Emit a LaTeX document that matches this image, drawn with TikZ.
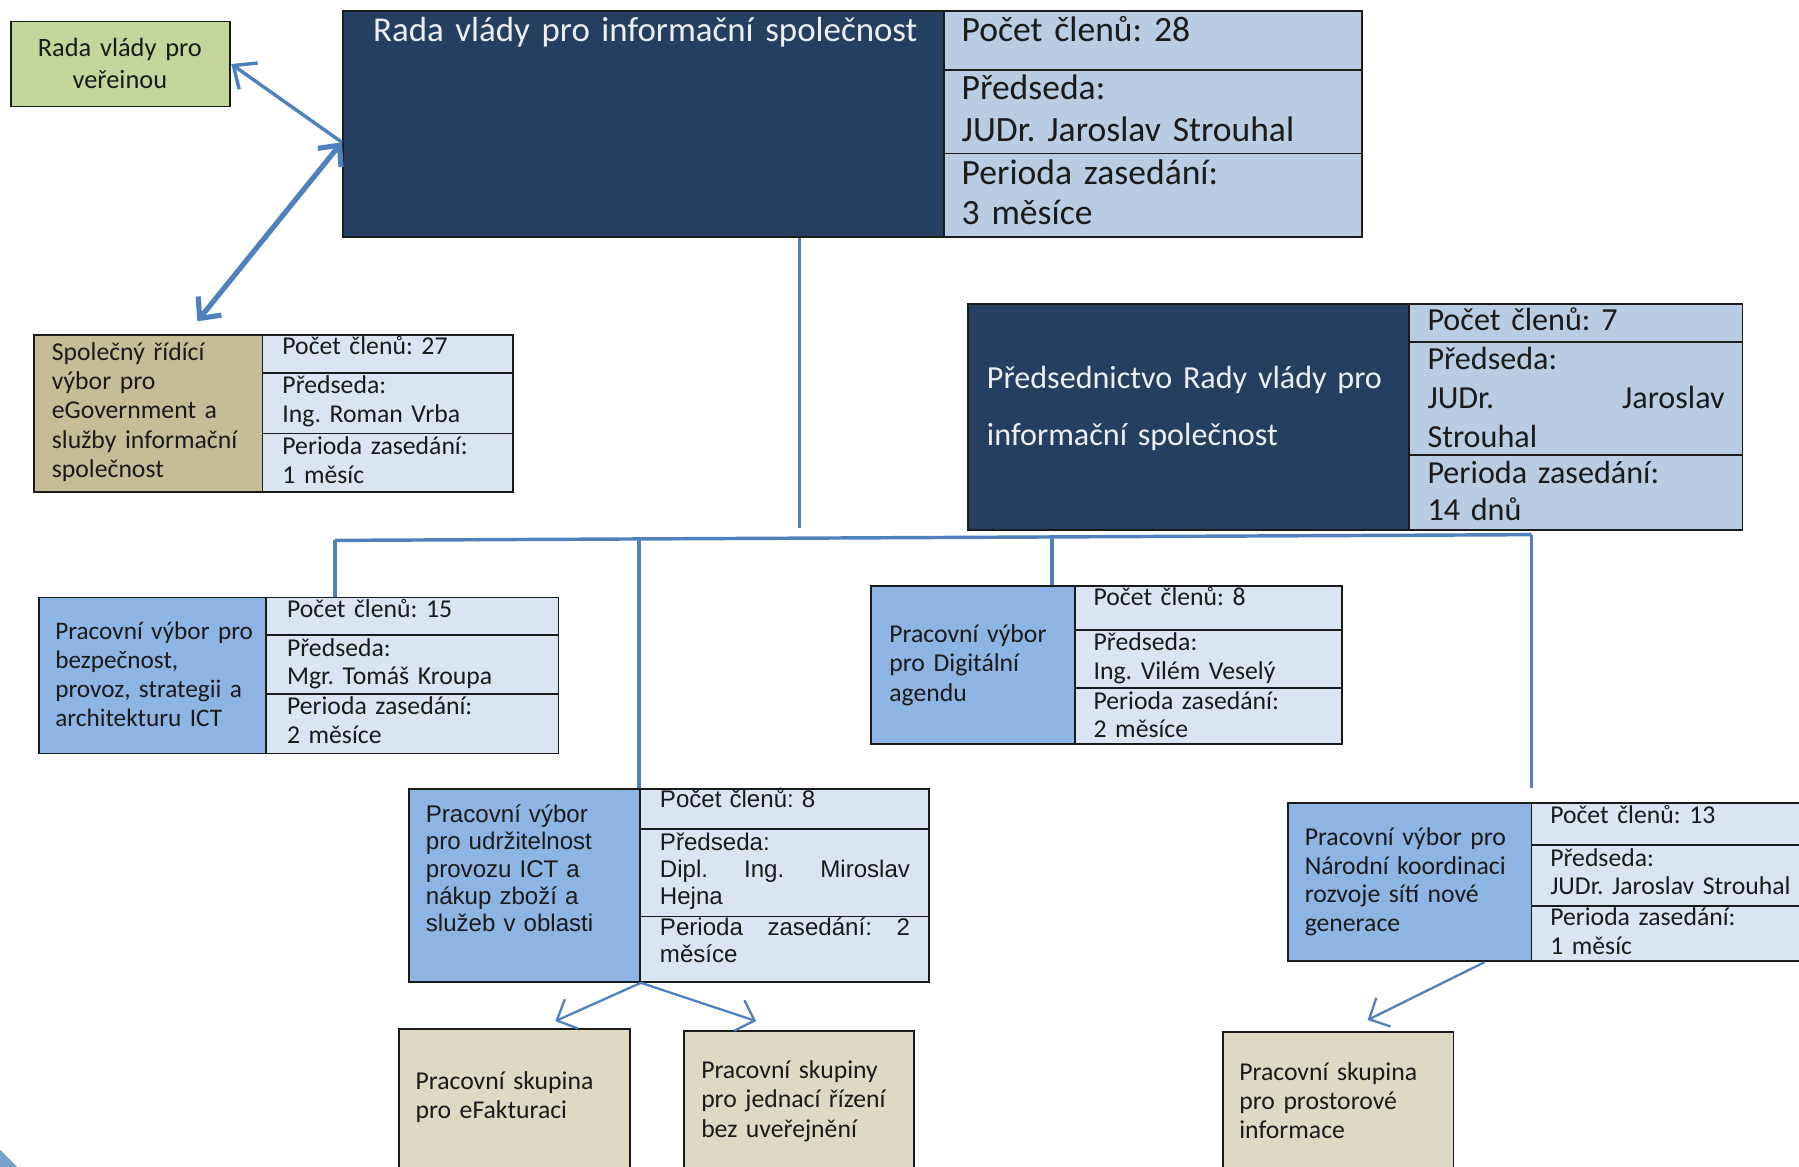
\documentclass[tikz,border=0pt]{standalone}
\usepackage{fontspec}
\setmainfont{Carlito}
\newfontfamily\arialf{Liberation Sans}
\usetikzlibrary{arrows.meta,calc}
\frenchspacing
\definecolor{navy}{HTML}{243F60}
\definecolor{cellA}{HTML}{B8CCE4}
\definecolor{cellB}{HTML}{DBE5F1}
\definecolor{midblue}{HTML}{8EB4E3}
\definecolor{leaf}{HTML}{C3D69B}
\definecolor{tan}{HTML}{C4BD97}
\definecolor{paletan}{HTML}{DDD9C3}
\definecolor{conn}{HTML}{4F81BD}
\definecolor{ink}{HTML}{1A1A1A}
\tikzset{
  cell/.style={draw=ink, line width=1.6pt, inner sep=0pt, anchor=north west},
  txt/.style={anchor=base west, inner sep=0pt, text width=330pt, align=left, text=ink},
  wtxt/.style={txt, text=white!92!navy},
  fs/.style={font=\frenchspacing\fontsize{22.4}{25.5}\selectfont},
  connector/.style={draw=conn, line width=3pt},
}
\begin{document}
\begin{tikzpicture}[x=1pt,y=-1pt]
\useasboundingbox (0,0) rectangle (1568,1017);
\fill[conn!75] (0,1002) -- (15,1017) -- (0,1017) -- cycle;
% ---- boxes
\node[cell, fill=leaf, minimum width=191, minimum height=74] (g) at (9,18) {};
\node[cell, fill=navy, minimum width=524, minimum height=197] (m) at (298,9) {};
\node[cell, fill=cellA, minimum width=364, minimum height=51] (m1) at (822,9) {};
\node[cell, fill=cellA, minimum width=364, minimum height=73] (m2) at (822,60) {};
\node[cell, fill=cellA, minimum width=364, minimum height=73] (m3) at (822,133) {};

\node[cell, fill=tan, minimum width=199, minimum height=137] (s) at (29,291) {};
\node[cell, fill=cellB, minimum width=218, minimum height=33] (s1) at (228,291) {};
\node[cell, fill=cellB, minimum width=218, minimum height=53] (s2) at (228,324) {};
\node[cell, fill=cellB, minimum width=218, minimum height=51] (s3) at (228,377) {};

\node[cell, fill=navy, minimum width=384, minimum height=197] (p) at (843,264) {};
\node[cell, fill=cellA, minimum width=291, minimum height=33] (p1) at (1227,264) {};
\node[cell, fill=cellA, minimum width=291, minimum height=99] (p2) at (1227,297) {};
\node[cell, fill=cellA, minimum width=291, minimum height=65] (p3) at (1227,396) {};

\node[cell, fill=midblue, minimum width=198, minimum height=136] (b) at (33,520) {};
\node[cell, fill=cellB, minimum width=255, minimum height=33] (b1) at (231,520) {};
\node[cell, fill=cellB, minimum width=255, minimum height=51] (b2) at (231,553) {};
\node[cell, fill=cellB, minimum width=255, minimum height=52] (b3) at (231,604) {};

\node[cell, fill=midblue, minimum width=178, minimum height=138] (d) at (758,510) {};
\node[cell, fill=cellB, minimum width=233, minimum height=38] (d1) at (936,510) {};
\node[cell, fill=cellB, minimum width=233, minimum height=51] (d2) at (936,548) {};
\node[cell, fill=cellB, minimum width=233, minimum height=49] (d3) at (936,599) {};

\node[cell, fill=midblue, minimum width=201, minimum height=168] (u) at (356,687) {};
\node[cell, fill=cellB, minimum width=252, minimum height=35] (u1) at (557,687) {};
\node[cell, fill=cellB, minimum width=252, minimum height=76] (u2) at (557,722) {};
\node[cell, fill=cellB, minimum width=252, minimum height=57] (u3) at (557,798) {};

\node[cell, fill=midblue, minimum width=212, minimum height=138] (n) at (1122,699) {};
\node[cell, fill=cellB, minimum width=250, minimum height=37] (n1) at (1334,699) {};
\node[cell, fill=cellB, minimum width=250, minimum height=53] (n2) at (1334,736) {};
\node[cell, fill=cellB, minimum width=250, minimum height=48] (n3) at (1334,789) {};

\node[cell, fill=paletan, minimum width=201, minimum height=140] (e) at (347,896) {};
\node[cell, fill=paletan, minimum width=201, minimum height=140] (j) at (595,898) {};
\node[cell, fill=paletan, minimum width=201, minimum height=140] (r) at (1065,899) {};

% ---- texts
\node[txt, anchor=base, text width=191, align=center, font=\fontsize{23}{28}\selectfont] (gt) at (104.5,49) {Rada vlády pro\\veřeinou};

\node[wtxt, font=\fontsize{30.4}{36}\selectfont, text width=500] (mt) at (325,36) {Rada vlády pro informační\ společnost};
\node[txt, font=\fontsize{31}{36}\selectfont] (m1t) at (838,36) {Počet členů: 28};
\node[txt, font=\fontsize{31}{36}\selectfont] (m2t) at (838,87) {Předseda:\\JUDr. Jaroslav Strouhal};
\node[txt, font=\fontsize{31}{35}\selectfont] (m3t) at (838,161) {Perioda zasedání:\\3 měsíce};

\node[txt, fs] (st) at (45,314) {Společný řídící\\výbor pro\\eGovernment a\\služby informační\\společnost};
\node[txt, fs] (s1t) at (246,309) {Počet členů: 27};
\node[txt, font=\fontsize{22.4}{25}\selectfont] (s2t) at (246,343) {Předseda:\\Ing. Roman Vrba};
\node[txt, font=\fontsize{22.4}{25}\selectfont] (s3t) at (246,396) {Perioda zasedání:\\1 měsíc};

\node[wtxt, font=\fontsize{28}{49}\selectfont, text width=366] (pt) at (860,339) {Předsednictvo Rady vlády pro\\informační společnost};
\node[txt, font=\fontsize{28}{34}\selectfont] (p1t) at (1244,288) {Počet členů: 7};
\node[txt, font=\fontsize{28}{34}\selectfont, text width=259] (p2t) at (1244,322) {Předseda:\\JUDr.\hfill Jaroslav\\Strouhal};
\node[txt, font=\fontsize{28}{33}\selectfont] (p3t) at (1244,421) {Perioda zasedání:\\14 dnů};

\node[txt, font=\fontsize{22}{25.3}\selectfont] (bt) at (48,557) {Pracovní výbor pro\\bezpečnost,\\provoz, strategii a\\architekturu ICT};
\node[txt, fs] (b1t) at (250,538) {Počet členů: 15};
\node[txt, font=\fontsize{22.4}{25}\selectfont] (b2t) at (250,572) {Předseda:\\Mgr. Tomáš Kroupa};
\node[txt, font=\fontsize{22.4}{25}\selectfont] (b3t) at (250,623) {Perioda zasedání:\\2 měsíce};

\node[txt, fs] (dt) at (775,560) {Pracovní výbor\\pro Digitální\\agendu};
\node[txt, fs] (d1t) at (953,528) {Počet členů: 8};
\node[txt, font=\fontsize{22.4}{25}\selectfont] (d2t) at (953,567) {Předseda:\\Ing. Vilém Veselý};
\node[txt, font=\fontsize{22.4}{25}\selectfont] (d3t) at (953,618) {Perioda zasedání:\\2 měsíce};

\node[txt, font=\arialf\fontsize{21}{23.7}\selectfont] (ut) at (371,717) {Pracovní výbor\\pro udržitelnost\\provozu ICT a\\nákup zboží a\\služeb v oblasti};
\node[txt, font=\arialf\fontsize{21}{23.5}\selectfont] (u1t) at (575,704) {Počet členů: 8};
\node[txt, font=\arialf\fontsize{21}{23.5}\selectfont, text width=218] (u2t) at (575,741) {Předseda:\\Dipl.\hfill Ing.\hfill Miroslav\\Hejna};
\node[txt, font=\arialf\fontsize{21}{24}\selectfont, text width=218] (u3t) at (575,815) {Perioda\hfill zasedání:\hfill 2\\měsíce};

\node[txt, font=\fontsize{22.4}{25}\selectfont] (nt) at (1137,737) {Pracovní výbor pro\\Národní koordinaci\\rozvoje sítí nové\\generace};
\node[txt, fs] (n1t) at (1351,718) {Počet členů: 13};
\node[txt, font=\fontsize{22.4}{25}\selectfont] (n2t) at (1351,755) {Předseda:\\JUDr. Jaroslav Strouhal};
\node[txt, font=\fontsize{22.4}{25}\selectfont] (n3t) at (1351,807) {Perioda zasedání:\\1 měsíc};

\node[txt, font=\fontsize{22.4}{25}\selectfont] (et) at (362,950) {Pracovní skupina\\pro eFakturaci};
\node[txt, fs] (jt) at (611,940) {Pracovní skupiny\\pro jednací řízení\\bez uveřejnění};
\node[txt, font=\fontsize{22.4}{25}\selectfont] (rt) at (1080,942) {Pracovní skupina\\pro prostorové\\informace};

% ---- connectors
\coordinate (trunk) at (697,460);
\coordinate (busL) at (292,471);
\coordinate (busU) at (557,470);
\coordinate (busD) at (917,467.4);
\coordinate (busR) at (1335,466);
\draw[connector] (m.south -| trunk) -- (trunk);
\draw[connector] (busL) -- (busR);
\draw[connector] (busL) -- (busL |- b.north);
\draw[connector] (busU) -- (u1.north west);
\draw[connector] (busD) -- (busD |- d.north);
\draw[connector] (busR) -- ($(busR |- n.north)+(0,-12)$);

\coordinate (mj) at ($(m.north west)+(0,115)$);
\coordinate (sj) at ($(s.north west)+(143,-11)$);
\draw[connector, {Straight Barb[length=16pt,width=28pt,line width=3pt]}-] (g.east) -- (mj);
\draw[connector, line width=4.5pt, {Straight Barb[length=14pt,width=26pt,line width=4.5pt]}-{Straight Barb[length=14pt,width=26pt,line width=4.5pt]}] (mj) -- (sj);

\coordinate (ue) at ($(e.north west)+(137,-6)$);
\coordinate (uj) at ($(j.north west)+(64,-8)$);
\coordinate (nr) at ($(r.north west)+(127,-10)$);
\draw[connector, line width=2pt, -{Straight Barb[length=14pt,width=28pt,line width=2pt]}] (u.south east) -- (ue);
\draw[connector, line width=2pt, -{Straight Barb[length=14pt,width=28pt,line width=2pt]}] (u.south east) -- (uj);
\draw[connector, line width=2pt, -{Straight Barb[length=14pt,width=28pt,line width=2pt]}] ($(n.south west)+(172,0)$) -- (nr);
\end{tikzpicture}
\end{document}
